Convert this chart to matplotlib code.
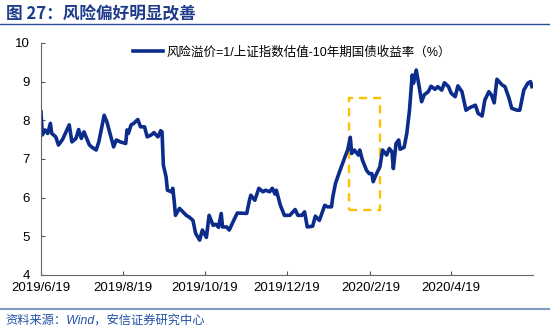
import numpy as np
import pandas as pd
import matplotlib
matplotlib.use("Agg")
import matplotlib.pyplot as plt
import matplotlib.dates as mdates
from matplotlib.patches import Rectangle
from matplotlib.lines import Line2D

plt.rcParams['font.family'] = ['Liberation Sans', 'Noto Sans CJK SC', 'DejaVu Sans']

# data: days since 2019-06-19 and risk premium (%)
start = "2019-06-19"
days = [0, 1, 3, 5, 7, 8, 11, 13, 16, 21, 23, 26, 28, 30, 32, 36, 38, 41, 43, 45,
        47, 49, 52, 54, 56, 59, 63, 64, 65, 67, 69, 72, 74, 77, 79, 82, 84, 87, 89, 90,
        91, 93, 94, 97, 98, 99, 100, 103, 108, 110, 113, 115, 118, 120, 123, 125, 128, 130, 132, 134,
        135, 138, 140, 144, 146, 153, 155, 156, 159, 162, 165, 167, 170, 172, 174, 175, 178, 181, 185, 189,
        191, 194, 196, 198, 202, 204, 207, 211, 213, 216, 217, 219, 222, 226, 228, 230, 231, 233, 236, 237,
        239, 242, 244, 246, 247, 249, 252, 254, 257, 259, 261, 262, 264, 266, 267, 270, 272, 274, 276, 277,
        279, 281, 283, 285, 288, 290, 293, 295, 298, 300, 303, 305, 308, 310, 313, 316, 319, 323, 325, 328,
        330, 333, 335, 337, 339, 343, 345, 348, 350, 354, 356, 359, 362, 364, 365]
premium = [8.22, 7.62, 7.75, 7.66, 7.92, 7.66, 7.57, 7.36, 7.50, 7.88, 7.44, 7.53, 7.76, 7.53, 7.70, 7.36, 7.30, 7.23, 7.44, 7.79,
           8.13, 7.96, 7.57, 7.31, 7.49, 7.44, 7.40, 7.75, 7.66, 7.88, 7.92, 8.02, 7.83, 7.83, 7.57, 7.62, 7.68, 7.57, 7.73, 7.70,
           6.84, 6.54, 6.19, 6.15, 6.24, 5.93, 5.54, 5.72, 5.54, 5.50, 5.41, 5.07, 4.90, 5.16, 4.97, 5.54, 5.28, 5.31, 5.23, 5.59,
           5.24, 5.24, 5.16, 5.46, 5.60, 5.59, 5.93, 6.06, 5.93, 6.24, 6.15, 6.19, 6.15, 6.24, 6.09, 6.19, 5.80, 5.54, 5.54, 5.69,
           5.54, 5.54, 5.63, 5.24, 5.26, 5.52, 5.41, 5.80, 5.76, 5.76, 6.02, 6.37, 6.67, 7.05, 7.23, 7.56, 7.14, 7.23, 7.10, 7.23,
           6.97, 6.71, 6.62, 6.62, 6.41, 6.58, 6.80, 7.23, 7.10, 7.27, 7.18, 6.75, 7.40, 7.49, 7.25, 7.30, 7.66, 8.26, 9.17, 8.96,
           9.30, 8.91, 8.48, 8.66, 8.74, 8.88, 8.80, 8.87, 8.78, 8.97, 8.87, 8.70, 8.61, 8.89, 8.74, 8.26, 8.33, 8.39, 8.18, 8.11,
           8.52, 8.74, 8.65, 8.45, 9.06, 8.91, 8.87, 8.57, 8.31, 8.26, 8.26, 8.78, 8.96, 9.00, 8.87]

tick_dates = ["2019-06-19", "2019-08-19", "2019-10-19", "2019-12-19", "2020-02-19", "2020-04-19"]
tick_labels = ["2019/6/19", "2019/8/19", "2019/10/19", "2019/12/19", "2020/2/19", "2020/4/19"]
box_x = ["2020-02-03", "2020-02-26"]
box_y = [5.69, 8.57]

dates = pd.Timestamp(start) + pd.to_timedelta(days, unit="D")

navy = "#0C2C8C"
fig = plt.figure(figsize=(5.5, 3.28), dpi=100)
ax = fig.add_axes([0.0745, 0.162, 0.895, 0.707])

ax.plot(dates, premium, color=navy, lw=2.6, solid_joinstyle="round")

x0 = mdates.date2num(pd.Timestamp(box_x[0]))
x1 = mdates.date2num(pd.Timestamp(box_x[1]))
ax.add_patch(Rectangle((x0, box_y[0]), x1 - x0, box_y[1] - box_y[0], fill=False,
                       edgecolor="#FFC000", lw=1.7, ls=(0, (3.5, 2.5))))

ax.set_ylim(4, 10)
ax.set_yticks(range(4, 11))
ax.set_xlim(pd.Timestamp(start), pd.Timestamp("2020-06-19"))
ax.set_xticks(pd.to_datetime(tick_dates))
ax.set_xticklabels(tick_labels)
ax.tick_params(direction="in", length=3, width=0.8, colors="#555555", labelcolor="black",
               labelsize=9.5)
ax.tick_params(axis="y", pad=8)
ax.tick_params(axis="x", pad=5)
for s in ["top", "right"]:
    ax.spines[s].set_visible(False)
for s in ["left", "bottom"]:
    ax.spines[s].set_color("#666666")
    ax.spines[s].set_linewidth(0.8)

h = Line2D([], [], color=navy, lw=2.6)
ax.legend([h], ["风险溢价=1/上证指数估值-10年期国债收益率（%）"], loc="upper left",
          bbox_to_anchor=(0.165, 1.035), frameon=False, handlelength=2.4, handletextpad=0.25,
          prop={"size": 9})

# header and footer
fig.text(0.01, 0.957, "图 27：风险偏好明显改善", fontsize=12, fontweight="bold",
         color="#1F3B8C", va="center", ha="left",
         family=["Noto Sans CJK SC", "DejaVu Sans"])
fig.add_artist(Line2D([0.0, 1.0], [0.926, 0.926], color="#2B4B9B", lw=1.0))
fig.add_artist(Line2D([0.0, 1.0], [0.057, 0.057], color="#7F9CCB", lw=1.5))
fig.text(0.01, 0.022, "资料来源：Wind，安信证券研究中心", fontsize=8.8, color="#2050A8",
         style="italic", va="center", ha="left")

fig.savefig("out.png", dpi=100)
